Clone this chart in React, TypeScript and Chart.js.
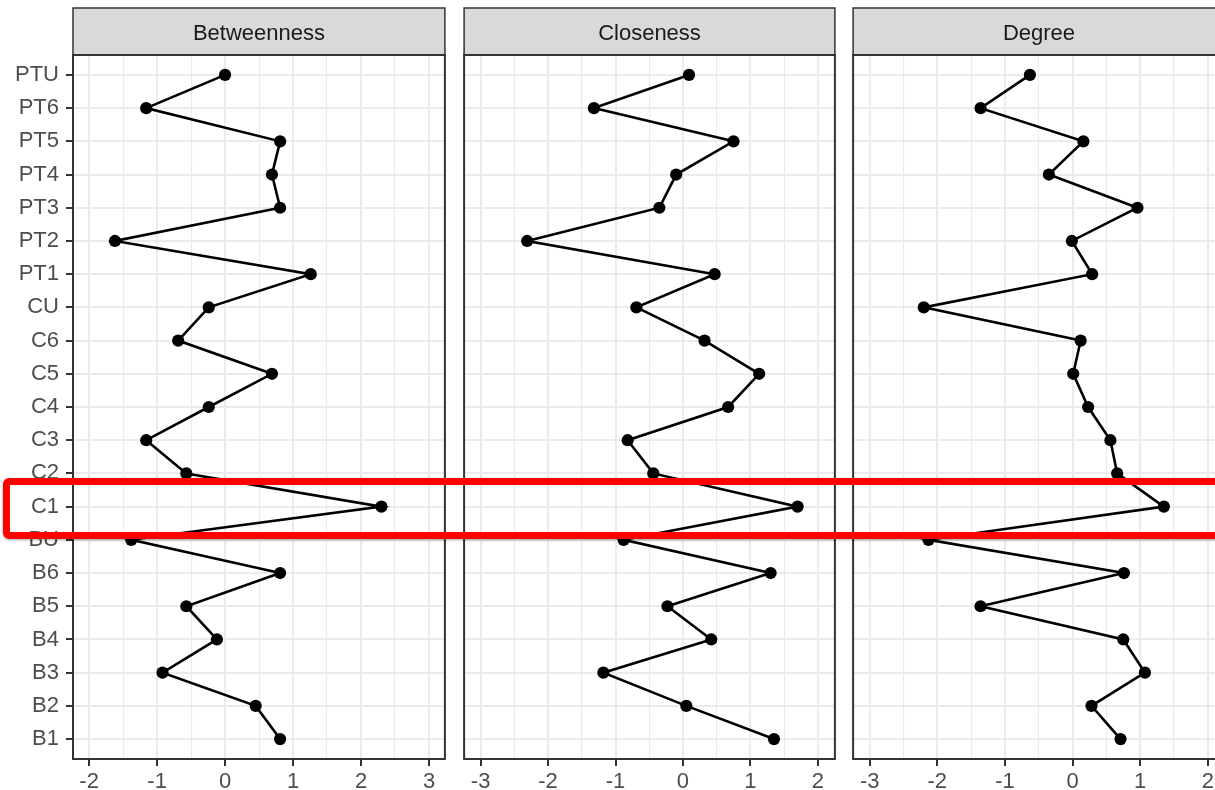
import React, { useEffect, useRef } from "react";
import { Chart, registerables } from "chart.js";

Chart.register(...registerables);

const categories = ["PTU", "PT6", "PT5", "PT4", "PT3", "PT2", "PT1", "CU", "C6", "C5", "C4", "C3", "C2", "C1", "BU", "B6", "B5", "B4", "B3", "B2", "B1"];
const panelTitles = ["Betweenness", "Closeness", "Degree"];

const betweenness = [0.0, -1.16, 0.81, 0.69, 0.81, -1.62, 1.26, -0.24, -0.69, 0.69, -0.24, -1.16, -0.57, 2.3, -1.38, 0.81, -0.57, -0.12, -0.92, 0.45, 0.81];
const closeness = [0.09, -1.32, 0.75, -0.1, -0.35, -2.31, 0.47, -0.69, 0.32, 1.13, 0.67, -0.82, -0.44, 1.7, -0.88, 1.3, -0.23, 0.42, -1.18, 0.05, 1.35];
const degree = [-0.63, -1.36, 0.16, -0.35, 0.96, -0.01, 0.29, -2.2, 0.12, 0.01, 0.23, 0.56, 0.66, 1.35, -2.13, 0.76, -1.36, 0.75, 1.07, 0.28, 0.71];

const betweennessTicks = [-2, -1, 0, 1, 2, 3];
const closenessTicks = [-3, -2, -1, 0, 1, 2];
const degreeTicks = [-3, -2, -1, 0, 1, 2];

const betweennessLimits = [-2.237, 3.234];
const closenessLimits = [-3.245, 2.253];
const degreeLimits = [-3.245, 2.253];

const FONT = '"Liberation Sans", Arial, sans-serif';
const STRIP_TOP = 8;
const PLOT_TOP = 55;

function withMinor(major: number[]): number[] {
  const out: number[] = [];
  for (let i = 0; i < major.length; i++) {
    out.push(major[i]);
    if (i < major.length - 1) out.push((major[i] + major[i + 1]) / 2);
  }
  return out;
}

const isMajor = (v: number) => Math.abs(v - Math.round(v)) < 1e-9;

type PanelProps = {
  title: string;
  values: number[];
  majorTicks: number[];
  limits: number[];
  showY: boolean;
  left: number;
  width: number;
  padLeft: number;
  padRight: number;
};

function Panel({ title, values, majorTicks, limits, showY, left, width, padLeft, padRight }: PanelProps) {
  const ref = useRef<HTMLCanvasElement>(null);
  useEffect(() => {
    if (!ref.current) return;
    const ticks = withMinor(majorTicks);
    const stripPlugin = {
      id: "strip",
      afterDraw(chart: any) {
        const { ctx, chartArea: a } = chart;
        ctx.save();
        ctx.fillStyle = "#D9D9D9";
        ctx.fillRect(a.left, STRIP_TOP, a.right - a.left, a.top - STRIP_TOP);
        ctx.strokeStyle = "#333333";
        ctx.lineWidth = 1.5;
        ctx.strokeRect(a.left, STRIP_TOP, a.right - a.left, a.top - STRIP_TOP);
        ctx.fillStyle = "#1A1A1A";
        ctx.font = `22px ${FONT}`;
        ctx.textAlign = "center";
        ctx.textBaseline = "alphabetic";
        ctx.fillText(title, (a.left + a.right) / 2, 40);
        ctx.lineWidth = 2;
        ctx.strokeRect(a.left, a.top, a.right - a.left, a.bottom - a.top);
        ctx.restore();
      },
    };
    const chart = new Chart(ref.current, {
      type: "scatter",
      data: {
        datasets: [
          {
            data: values.map((v, i) => ({ x: v, y: i })),
            showLine: true,
            borderColor: "#000000",
            borderWidth: 2.6,
            pointRadius: 6.1,
            pointHoverRadius: 6.1,
            pointBackgroundColor: "#000000",
            pointBorderWidth: 0,
          },
        ],
      },
      options: {
        animation: false,
        responsive: false,
        events: [],
        layout: { padding: { top: PLOT_TOP, left: padLeft, right: padRight, bottom: 0 } },
        plugins: { legend: { display: false }, tooltip: { enabled: false } },
        scales: {
          x: {
            type: "linear",
            min: limits[0],
            max: limits[1],
            afterBuildTicks: (s: any) => {
              s.ticks = ticks.map((v) => ({ value: v }));
            },
            afterFit: (s: any) => {
              s.height = 31;
            },
            border: { display: false },
            grid: {
              color: "#EBEBEB",
              lineWidth: (c: any) => (c.tick && isMajor(c.tick.value) ? 2 : 1.1),
              drawTicks: true,
              tickLength: 7,
              tickWidth: 2,
              tickColor: (c: any) => (c.tick && isMajor(c.tick.value) ? "#333333" : "rgba(0,0,0,0)"),
            },
            ticks: {
              autoSkip: false,
              maxRotation: 0,
              minRotation: 0,
              padding: 3,
              color: "#4D4D4D",
              font: { family: FONT, size: 22 },
              callback: (v: any) => (isMajor(Number(v)) ? String(Math.round(Number(v))) : ""),
            },
          },
          y: {
            type: "linear",
            min: -0.6,
            max: categories.length - 1 + 0.6,
            reverse: true,
            afterBuildTicks: (s: any) => {
              s.ticks = categories.map((_, i) => ({ value: i }));
            },
            afterFit: (s: any) => {
              s.width = showY ? 73 : 0;
            },
            border: { display: false },
            grid: {
              color: "#EBEBEB",
              lineWidth: 2,
              drawTicks: showY,
              tickLength: 7,
              tickWidth: 2,
              tickColor: "#333333",
            },
            ticks: {
              display: showY,
              autoSkip: false,
              padding: 7,
              color: "#4D4D4D",
              font: { family: FONT, size: 22 },
              callback: (v: any) => categories[Math.round(Number(v))] ?? "",
            },
          },
        },
      },
      plugins: [stripPlugin],
    } as any);
    return () => chart.destroy();
  }, []);
  return (
    <canvas
      ref={ref}
      width={width}
      height={790}
      style={{ position: "absolute", left, top: 0, width, height: 790, display: "block" }}
    />
  );
}

export default function App() {
  return (
    <div
      style={{
        position: "absolute",
        left: 0,
        top: 0,
        width: 1215,
        height: 790,
        overflow: "hidden",
        background: "#FFFFFF",
      }}
    >
      <Panel title={panelTitles[0]} values={betweenness} majorTicks={betweennessTicks} limits={betweennessLimits} showY={true} left={0} width={451} padLeft={0} padRight={4.3} />
      <Panel title={panelTitles[1]} values={closeness} majorTicks={closenessTicks} limits={closenessLimits} showY={false} left={458} width={383} padLeft={4.3} padRight={4.3} />
      <Panel title={panelTitles[2]} values={degree} majorTicks={degreeTicks} limits={degreeLimits} showY={false} left={847} width={384} padLeft={4.7} padRight={4.3} />
      <div
        style={{
          position: "absolute",
          left: 3,
          top: 478,
          width: 1240,
          height: 61,
          border: "7px solid #FF0000",
          borderRadius: 6,
          boxSizing: "border-box",
          boxShadow: "0 1px 3px rgba(0,0,0,0.35)",
          pointerEvents: "none",
        }}
      />
    </div>
  );
}
